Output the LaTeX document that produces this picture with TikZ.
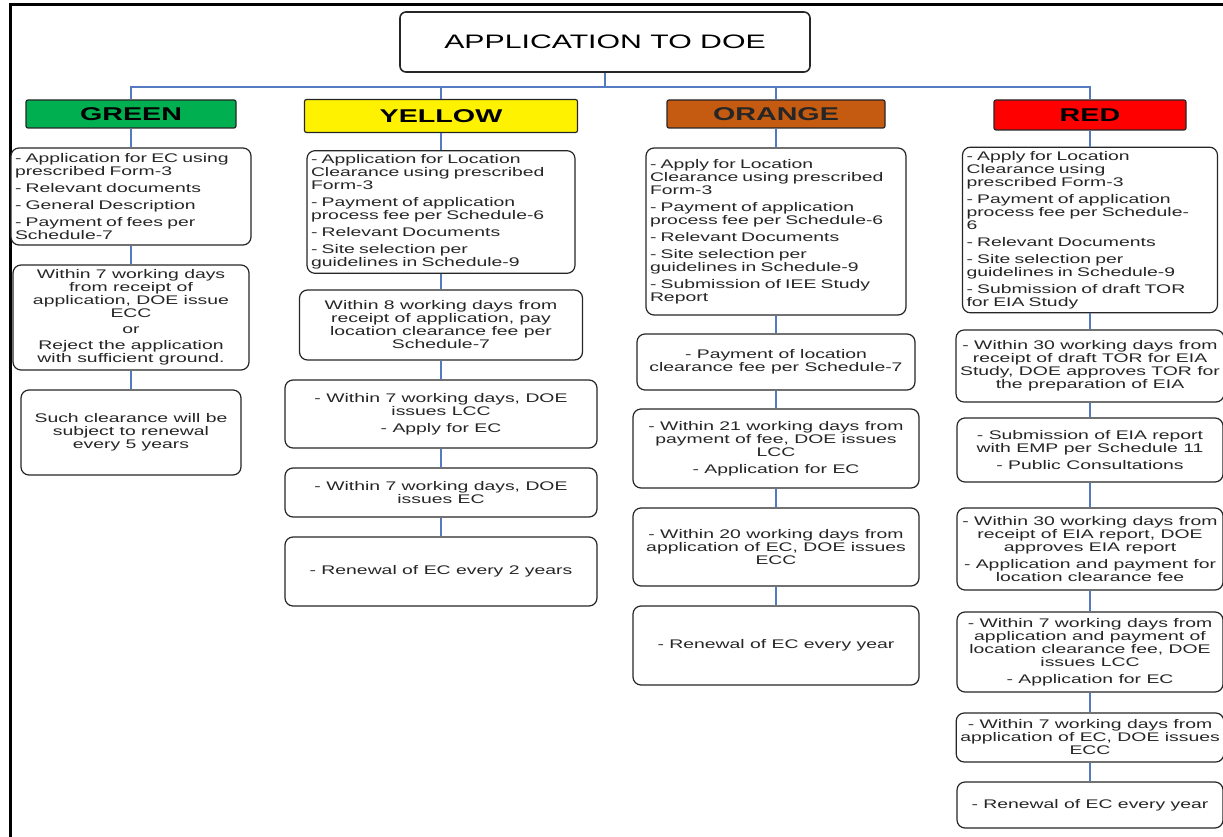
\documentclass[tikz,border=0pt]{standalone}
\usepackage{fontspec}
\setmainfont{Liberation Sans}[FakeStretch=1.55]
\usepackage{xcolor}
\usepackage{tikz}
\definecolor{linkblue}{RGB}{84,122,194}
\definecolor{greenhead}{RGB}{0,176,80}
\definecolor{orangehead}{RGB}{197,90,17}
\newcommand{\bodysize}{\fontsize{12.5}{13}\selectfont}

\begin{document}
\begin{tikzpicture}[x=1pt,y=-1pt,
  box/.style={draw=black!85,line width=1.2,rounded corners=8,fill=white,inner sep=4pt,font=\bodysize,text=black!85},
  lbox/.style={box,align=left},
  cbox/.style={box,align=center},
  head/.style={draw=black!85,line width=1.2,rounded corners=2,inner sep=0pt,font=\fontsize{18.5}{19}\selectfont\bfseries},
  link/.style={draw=linkblue,line width=2.3}]
\useasboundingbox (0,0) rectangle (1223,837);
\draw[line width=3](10,837)--(10,5)--(1223,5);
%
\node[draw=black!85,line width=1.6,rounded corners=6,minimum width=410pt,minimum height=60pt,font=\fontsize{19.5}{20}\selectfont] (title) at (605,42) {APPLICATION TO DOE};
\coordinate (bus) at (605,87);
%
\node[head,fill=greenhead,minimum width=210pt,minimum height=28pt] (green) at (131,114) {GREEN};
\node[head,fill=yellow,minimum width=273pt,minimum height=33pt] (yellowhd) at (441,116) {YELLOW};
\node[head,fill=orangehead,text=black!85,minimum width=218pt,minimum height=28pt] (orange) at (776,114) {ORANGE};
\node[head,fill=red,minimum width=192pt,minimum height=30pt] (redhd) at (1090,115) {RED};
%
\node[lbox,text width=232pt,minimum height=97pt] (g1) at (131,196.5) {- Application for EC using\\ prescribed Form-3\\[4pt] - Relevant documents\\[4pt] - General Description\\[4pt] - Payment of fees per\\ Schedule-7};
\node[cbox,minimum width=236pt,minimum height=105pt] (g2) at (131,317.5) {Within  7 working days\\ from receipt  of\\ application,  DOE issue\\ ECC\\[3pt] or\\[3pt] Reject the application\\ with sufficient ground.};
\node[cbox,minimum width=220pt,minimum height=85pt] (g3) at (131,432.5) {Such clearance will be\\ subject to renewal\\ every 5 years};
%
\node[lbox,text width=260pt,minimum height=120pt] (y1) at (441,212) {- Application for Location\\ Clearance using prescribed\\ Form-3\\[4pt] - Payment of application\\ process fee per Schedule-6\\[4pt] - Relevant Documents\\[4pt] - Site selection per\\ guidelines in Schedule-9};
\node[cbox,minimum width=283pt,minimum height=70pt] (y2) at (441,325) {Within  8 working days from\\ receipt  of application, pay\\ location clearance fee per\\ Schedule-7};
\node[cbox,minimum width=312pt,minimum height=68pt] (y3) at (441,414) {- Within 7 working days, DOE\\ issues LCC\\[4pt] - Apply for EC};
\node[cbox,minimum width=312pt,minimum height=49pt] (y4) at (441,492.5) {- Within 7 working days, DOE\\ issues EC};
\node[cbox,minimum width=312pt,minimum height=69pt] (y5) at (441,571.5) {- Renewal of EC every 2 years};
%
\node[lbox,text width=252pt,minimum height=167pt] (o1) at (776,231.5) {- Apply for Location\\ Clearance using prescribed\\ Form-3\\[4pt] - Payment of application\\ process fee per Schedule-6\\[4pt] - Relevant Documents\\[4pt] - Site selection per\\ guidelines in Schedule-9\\[4pt] - Submission of IEE Study\\ Report};
\node[cbox,minimum width=278pt,minimum height=56pt] (o2) at (776,362) {- Payment of location\\ clearance fee per Schedule-7};
\node[cbox,minimum width=286pt,minimum height=79pt] (o3) at (776,448.5) {- Within 21 working days from\\ payment of fee, DOE issues\\ LCC\\[4pt] - Application for EC};
\node[cbox,minimum width=286pt,minimum height=78pt] (o4) at (776,547) {- Within 20 working days from\\ application of EC, DOE issues\\ ECC};
\node[cbox,minimum width=286pt,minimum height=79pt] (o5) at (776,645.5) {- Renewal of EC every year};
%
\node[lbox,text width=247pt,minimum height=160pt] (r1) at (1090,230) {- Apply for Location\\ Clearance using\\ prescribed Form-3\\[4pt] - Payment of application\\ process fee per Schedule-\\ 6\\[4pt] - Relevant Documents\\[4pt] - Site selection per\\ guidelines in Schedule-9\\[4pt] - Submission of draft TOR\\ for EIA Study};
\node[cbox,minimum width=266pt,minimum height=72pt] (r2) at (1090,366) {- Within  30 working days from\\ receipt of draft TOR for EIA\\ Study, DOE approves TOR for\\ the preparation of EIA};
\node[cbox,minimum width=266pt,minimum height=64pt] (r3) at (1090,450) {- Submission of EIA report\\ with EMP per Schedule 11\\[4pt] - Public Consultations};
\node[cbox,minimum width=266pt,minimum height=82pt] (r4) at (1090,549) {- Within 30 working days from\\ receipt of EIA report, DOE\\ approves EIA report\\[4pt] - Application and payment for\\ location clearance fee};
\node[cbox,minimum width=266pt,minimum height=80pt] (r5) at (1090,652) {- Within 7 working days from\\ application and payment of\\ location clearance fee, DOE\\ issues LCC\\[4pt] - Application for EC};
\node[cbox,minimum width=266pt,minimum height=49pt] (r6) at (1090,737.5) {- Within 7 working days from\\ application of EC, DOE issues\\ ECC};
\node[cbox,minimum width=266pt,minimum height=46pt] (r7) at (1090,805) {- Renewal of EC every year};
%
\draw[link](title)--(bus);
\draw[link](bus)-|(green);
\draw[link](bus)-|(yellowhd);
\draw[link](bus)-|(orange);
\draw[link](bus)-|(redhd);
%
\draw[link](green)--(g1) (g1)--(g2) (g2)--(g3);
\draw[link](yellowhd)--(y1) (y1)--(y2) (y2)--(y3) (y3)--(y4) (y4)--(y5);
\draw[link](orange)--(o1) (o1)--(o2) (o2)--(o3) (o3)--(o4) (o4)--(o5);
\draw[link](redhd)--(r1) (r1)--(r2) (r2)--(r3) (r3)--(r4) (r4)--(r5) (r5)--(r6) (r6)--(r7);
\end{tikzpicture}
\end{document}
